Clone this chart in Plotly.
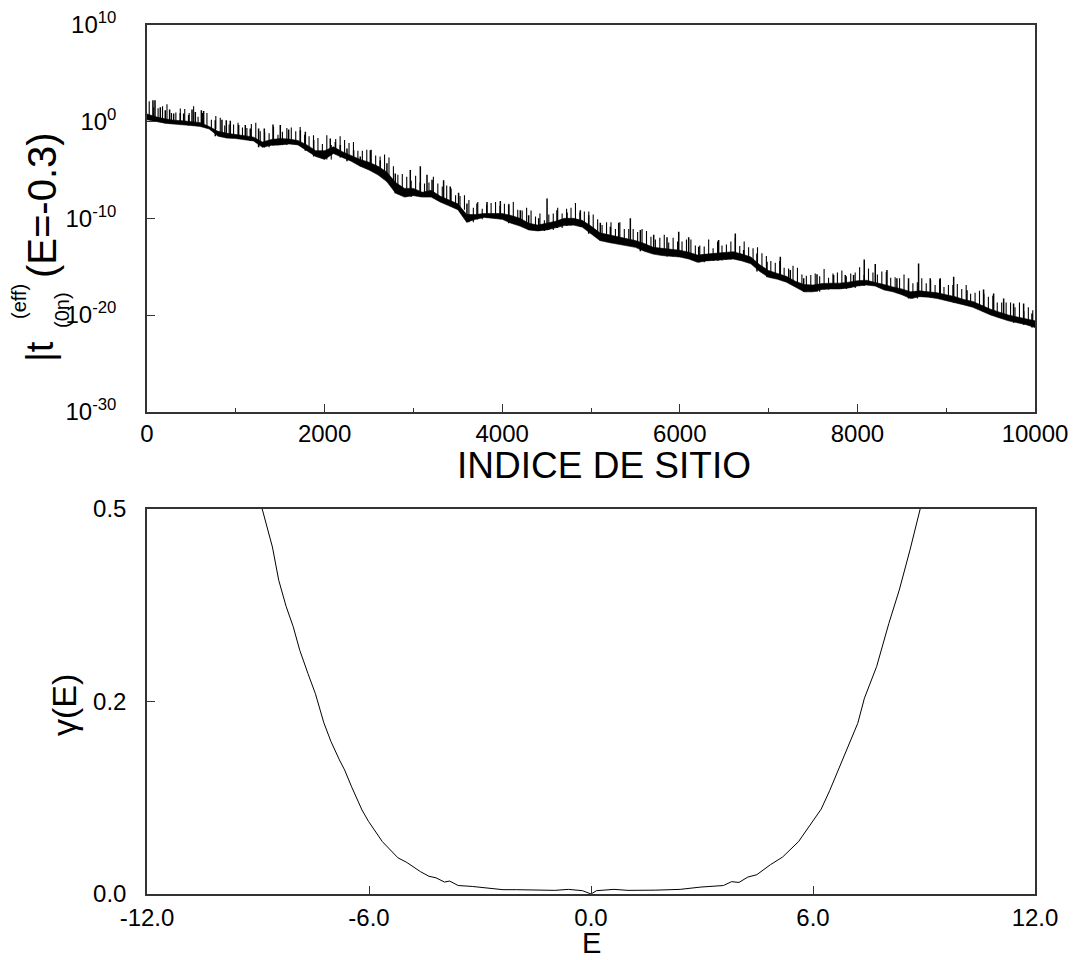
import plotly.graph_objects as go

# ---------------- data: top panel (log10 of |t_eff|) ----------------
grid_sites = list(range(0, 10001, 100))
band_hi = [0.8, 0.5, 0.3, 0.15, 0.1, 0.0, -0.1, -0.5, -1.0, -1.2,
           -1.3, -1.45, -1.6, -2.1, -1.85, -1.75, -1.8, -1.95, -2.4, -3.0,
           -3.0, -2.6, -3.1, -3.5, -3.9, -4.2, -4.6, -5.2, -6.3, -6.9,
           -6.9, -7.3, -7.1, -7.7, -8.1, -8.5, -9.6, -9.6, -9.5, -9.5,
           -9.5, -9.7, -10.0, -10.5, -10.7, -10.5, -10.3, -10.0, -10.0, -10.2,
           -10.8, -11.5, -11.7, -11.9, -12.1, -12.3, -12.6, -13.0, -13.1, -13.2,
           -13.3, -13.5, -13.8, -13.7, -13.6, -13.5, -13.45, -13.7, -14.0, -14.8,
           -15.4, -15.7, -16.0, -16.5, -16.85, -16.9, -16.75, -16.7, -16.7, -16.6,
           -16.45, -16.4, -16.6, -16.85, -17.1, -17.3, -17.6, -17.5, -17.6, -17.7,
           -17.9, -18.1, -18.4, -18.6, -19.0, -19.4, -19.7, -20.0, -20.2, -20.4,
           -20.6]
band_lo = [0.2, 0.0, -0.15, -0.25, -0.3, -0.4, -0.5, -0.75, -1.5, -1.7,
           -1.75, -1.85, -2.0, -2.65, -2.45, -2.4, -2.3, -2.4, -3.0, -3.6,
           -3.9, -3.3, -3.7, -4.1, -4.6, -5.0, -5.5, -6.2, -7.4, -7.8,
           -7.65, -7.8, -7.8, -8.3, -8.7, -9.1, -10.4, -10.1, -9.9, -10.0,
           -10.1, -10.5, -10.8, -11.2, -11.3, -11.2, -11.0, -10.75, -10.7, -10.9,
           -11.6, -12.3, -12.5, -12.65, -12.8, -13.0, -13.4, -13.7, -13.85, -13.95,
           -14.0, -14.2, -14.55, -14.4, -14.35, -14.25, -14.2, -14.4, -14.7, -15.5,
           -16.1, -16.3, -16.6, -17.1, -17.6, -17.6, -17.35, -17.3, -17.3, -17.2,
           -17.0, -16.9, -17.0, -17.4, -17.6, -17.9, -18.3, -18.1, -18.15, -18.3,
           -18.5, -18.7, -18.95, -19.2, -19.6, -20.0, -20.3, -20.6, -20.8, -21.0,
           -21.3]
# prominent spikes: site and log10 of the spike top
spike_site = [67, 90, 150, 206, 255, 300, 375, 413, 469, 507, 544, 612, 638,
              769, 844, 893, 938, 1032, 1107, 1163, 1257, 1321, 1419, 1501, 1595,
              1727, 1783, 1877, 2064, 2121, 2177, 2252, 2327, 2402, 2515, 2627,
              2702, 2796, 2965, 3078, 3153, 3210, 3340, 3415, 3509, 3603, 3716,
              3829, 3979, 4073, 4204, 4298, 4411, 4505, 4617, 4730, 4880, 4974,
              5105, 5218, 5312, 5443, 5556, 5706, 5856, 5988, 6100, 6213, 6437,
              6625, 6719, 6869, 6982, 7132, 7244, 7395, 7545, 7732, 7864, 7957,
              8077, 8201, 8333, 8445, 8576, 8689, 8820, 8933, 9084, 9234, 9421,
              9534, 9647, 9759, 9872, 9966]
spike_top = [2.22, 2.22, 1.5, 1.18, 1.25, 0.84, 0.9, 0.84, 0.7, 1.25, 1.0, 1.18, 1.1,
             0.15, 0.2, 0.15, 0.1, -0.35, -0.35, -0.7, -0.7, -0.7, -0.3, -0.35, -0.8,
             -0.88, -1.05, -1.9, -1.74, -2.1, -2.4, -2.78, -2.95, -3.6, -2.95, -3.98,
             -4.3, -5.35, -5.0, -4.61, -5.5, -6.0, -6.05, -6.7, -7.35, -8.46, -8.46,
             -8.3, -8.2, -8.6, -9.15, -9.67, -10.0, -7.94, -9.15, -9.4, -9.15, -9.67,
             -10.45, -10.87, -10.45, -10.0, -11.2, -11.7, -11.95, -11.39, -11.95, -12.95, -12.25,
             -11.56, -13.28, -13.63, -14.5, -13.98, -15.35, -16.2, -15.77, -15.87, -15.87, -15.87,
             -14.25, -14.73, -15.35, -16.2, -16.2, -14.66, -16.2, -16.2, -16.05, -17.43, -17.35,
             -17.77, -18.29, -18.8, -18.8, -19.84]
# small spikes at a quarter and three quarters of each 100-site cell:
# height in decades above the band top
small_rise_a = [1.3, 0.9, 1.5, 0.8, 1.2, 1.6, 1.0, 0.7, 1.4, 0.9,
                1.2, 0.8, 1.5, 1.0, 1.3, 0.7, 1.2, 1.4, 0.9, 1.3,
                1.6, 0.8, 1.2, 1.4, 0.9, 1.3, 1.0, 1.5, 0.8, 1.2,
                1.3, 0.9, 1.4, 1.0, 1.2, 0.8, 1.5, 1.3, 0.9, 1.2,
                1.0, 1.4, 0.8, 1.3, 1.2, 0.9, 1.4, 1.0, 1.6, 0.9,
                1.2, 0.8, 1.3, 1.5, 1.0, 0.9, 1.3, 0.8, 1.4, 1.2,
                0.9, 1.3, 1.0, 1.5, 1.2, 0.8, 1.4, 1.3, 0.9, 1.2,
                1.0, 1.3, 0.8, 1.4, 0.9, 1.2, 1.5, 1.0, 1.3, 0.9,
                1.4, 1.2, 0.8, 1.3, 1.0, 1.5, 0.9, 1.3, 1.2, 1.4,
                1.0, 1.3, 1.5, 0.9, 1.2, 1.4, 1.0, 1.3, 1.5, 1.2]
small_rise_b = [0.7, 1.1, 0.6, 1.2, 0.8, 0.5, 1.0, 1.1, 0.6, 0.9,
                0.7, 1.2, 0.6, 0.9, 0.5, 1.1, 0.8, 0.6, 1.0, 0.7,
                0.6, 1.1, 0.9, 0.5, 1.0, 0.7, 1.2, 0.6, 0.9, 0.8,
                0.6, 1.0, 0.7, 1.1, 0.5, 0.9, 0.7, 0.6, 1.1, 0.8,
                1.0, 0.6, 1.1, 0.7, 0.5, 1.0, 0.8, 1.1, 0.6, 0.9,
                0.7, 1.1, 0.6, 0.8, 1.0, 1.2, 0.7, 1.0, 0.6, 0.8,
                1.1, 0.7, 0.9, 0.6, 0.8, 1.1, 0.6, 0.7, 1.0, 0.9,
                0.8, 0.6, 1.1, 0.7, 1.0, 0.9, 0.6, 1.1, 0.7, 1.0,
                0.6, 0.8, 1.1, 0.7, 0.9, 0.6, 1.0, 0.8, 0.7, 0.6,
                1.0, 0.8, 0.6, 1.1, 0.9, 0.7, 1.0, 0.8, 0.6, 0.9]

# ---------------- data: bottom panel ----------------
E_vals = [-8.89, -8.80, -8.61, -8.44, -8.24, -8.05, -7.87, -7.65, -7.45, -7.22,
          -7.03, -6.80, -6.66, -6.47, -6.19, -6.01, -5.64, -5.22, -4.98, -4.61,
          -4.38, -4.19, -3.96, -3.82, -3.59, -3.21, -2.75, -2.38, -2.01, -1.64,
          -0.98, -0.61, -0.23, 0.0, 0.15, 0.62, 1.0, 1.75, 2.41, 2.97,
          3.58, 3.80, 4.00, 4.24, 4.48, 4.85, 5.18, 5.61, 5.98, 6.22,
          6.45, 6.83, 7.21, 7.39, 7.72, 8.05, 8.33, 8.62, 8.90]
gamma_vals = [0.5, 0.483, 0.450, 0.407, 0.373, 0.347, 0.316, 0.286, 0.260, 0.222,
              0.198, 0.174, 0.161, 0.139, 0.109, 0.094, 0.068, 0.047, 0.041, 0.029,
              0.023, 0.021, 0.0155, 0.0168, 0.011, 0.0098, 0.0073, 0.0056, 0.0056, 0.0056,
              0.0047, 0.006, 0.0043, 0.0, 0.0043, 0.006, 0.0047, 0.005, 0.006, 0.009,
              0.011, 0.016, 0.015, 0.022, 0.025, 0.038, 0.048, 0.068, 0.094, 0.11,
              0.134, 0.177, 0.2215, 0.254, 0.295, 0.351, 0.394, 0.446, 0.5]

top_xticks = [0, 2000, 4000, 6000, 8000, 10000]
top_xticktext = ["0", "2000", "4000", "6000", "8000", "10000"]
top_yticks = [1e-30, 1e-20, 1e-10, 1, 1e10]
top_yticktext = ["10<sup>-30</sup>", "10<sup>-20</sup>", "10<sup>-10</sup>",
                 "10<sup>0</sup>", "10<sup>10</sup>"]
bot_xticks = [-12, -6, 0, 6, 12]
bot_xticktext = ["-12.0", "-6.0", "0.0", "6.0", "12.0"]
bot_yticks = [0, 0.25, 0.5]
bot_yticktext = ["0.0", "0.2", "0.5"]

FONT = "Liberation Sans, Arial, sans-serif"
AX = "#333333"

fig = go.Figure()

lo_lin = [10 ** v for v in band_lo]
hi_lin = [10 ** v for v in band_hi]
fig.add_trace(go.Scatter(x=grid_sites, y=lo_lin, mode="lines",
                         line=dict(color="black", width=0.6), xaxis="x", yaxis="y",
                         hoverinfo="skip"))
fig.add_trace(go.Scatter(x=grid_sites, y=hi_lin, mode="lines", fill="tonexty",
                         fillcolor="black", line=dict(color="black", width=0.6),
                         xaxis="x", yaxis="y", hoverinfo="skip"))

# small spikes inside each cell
mx, my = [], []
for k in range(len(small_rise_a)):
    for off, rise in ((25, small_rise_a[k]), (75, small_rise_b[k])):
        s = grid_sites[k] + off
        mx += [s, s, None]
        my += [10 ** band_lo[k], 10 ** (band_hi[k] + rise), None]
fig.add_trace(go.Scatter(x=mx, y=my, mode="lines", line=dict(color="black", width=1.1),
                         xaxis="x", yaxis="y", hoverinfo="skip"))

sx, sy = [], []
for s, t in zip(spike_site, spike_top):
    k = min(range(len(grid_sites)), key=lambda i: abs(grid_sites[i] - s))
    sx += [s, s, None]
    sy += [10 ** band_lo[k], 10 ** t, None]
fig.add_trace(go.Scatter(x=sx, y=sy, mode="lines", line=dict(color="black", width=1.5),
                         xaxis="x", yaxis="y", hoverinfo="skip"))

fig.add_trace(go.Scatter(x=E_vals, y=gamma_vals, mode="lines",
                         line=dict(color="black", width=1), xaxis="x2", yaxis="y2",
                         hoverinfo="skip"))

axis_common = dict(showline=True, linecolor=AX, linewidth=1.5, mirror=True,
                   showgrid=False, zeroline=False, ticks="inside", tickcolor=AX,
                   tickwidth=1, automargin=False,
                   tickfont=dict(family=FONT, size=24, color="black"))

# the page body adds an 8 px offset, so margins are shifted accordingly
fig.update_layout(
    template="none",
    width=1076, height=960,
    margin=dict(l=139, r=49, t=17, b=74, autoexpand=False),
    paper_bgcolor="white", plot_bgcolor="white",
    showlegend=False,
    xaxis=dict(axis_common, domain=[0, 1], anchor="y", range=[0, 10000],
               tickvals=top_xticks, ticktext=top_xticktext, ticklen=8,
               ticklabelstandoff=0,
               minor=dict(ticks="inside", ticklen=4, dtick=1000, tickcolor=AX)),
    yaxis=dict(axis_common, domain=[0.555, 1], anchor="x", type="log",
               range=[-30, 10], tickvals=top_yticks, ticktext=top_yticktext,
               ticklen=8, ticklabelstandoff=24),
    xaxis2=dict(axis_common, domain=[0, 1], anchor="y2", range=[-12, 12],
                tickvals=bot_xticks, ticktext=bot_xticktext, ticklen=8,
                ticklabelstandoff=1),
    yaxis2=dict(axis_common, domain=[0, 0.4436], anchor="x2", range=[0, 0.5],
                tickvals=bot_yticks, ticktext=bot_yticktext, ticklen=8,
                ticklabelstandoff=14),
)

def px2paper(px, py):
    return (px - 147) / 888.0, (894 - py) / 869.0

annots = []
def add_text(text, px, py, size, angle=0, family=FONT):
    xp, yp = px2paper(px, py)
    annots.append(dict(text=text, x=xp, y=yp, xref="paper", yref="paper",
                       xanchor="center", yanchor="middle", showarrow=False,
                       textangle=angle, font=dict(family=family, size=size, color="black")))

add_text("INDICE DE SITIO", 604, 465, 37,
         family="Liberation Sans Narrow, Arial Narrow, Liberation Sans, sans-serif")
add_text("E", 591, 943, 29)
add_text("\u03b3(E)", 64, 705, 34, angle=-90)
add_text("(E=-0.3)", 42, 205, 40, angle=-90)
add_text("|t", 40, 352, 38, angle=-90)
add_text("(0n)", 62, 310, 20, angle=-90)
add_text("(eff)", 19, 302, 20, angle=-90)
fig.update_layout(annotations=annots)

fig.write_html("out.html")
